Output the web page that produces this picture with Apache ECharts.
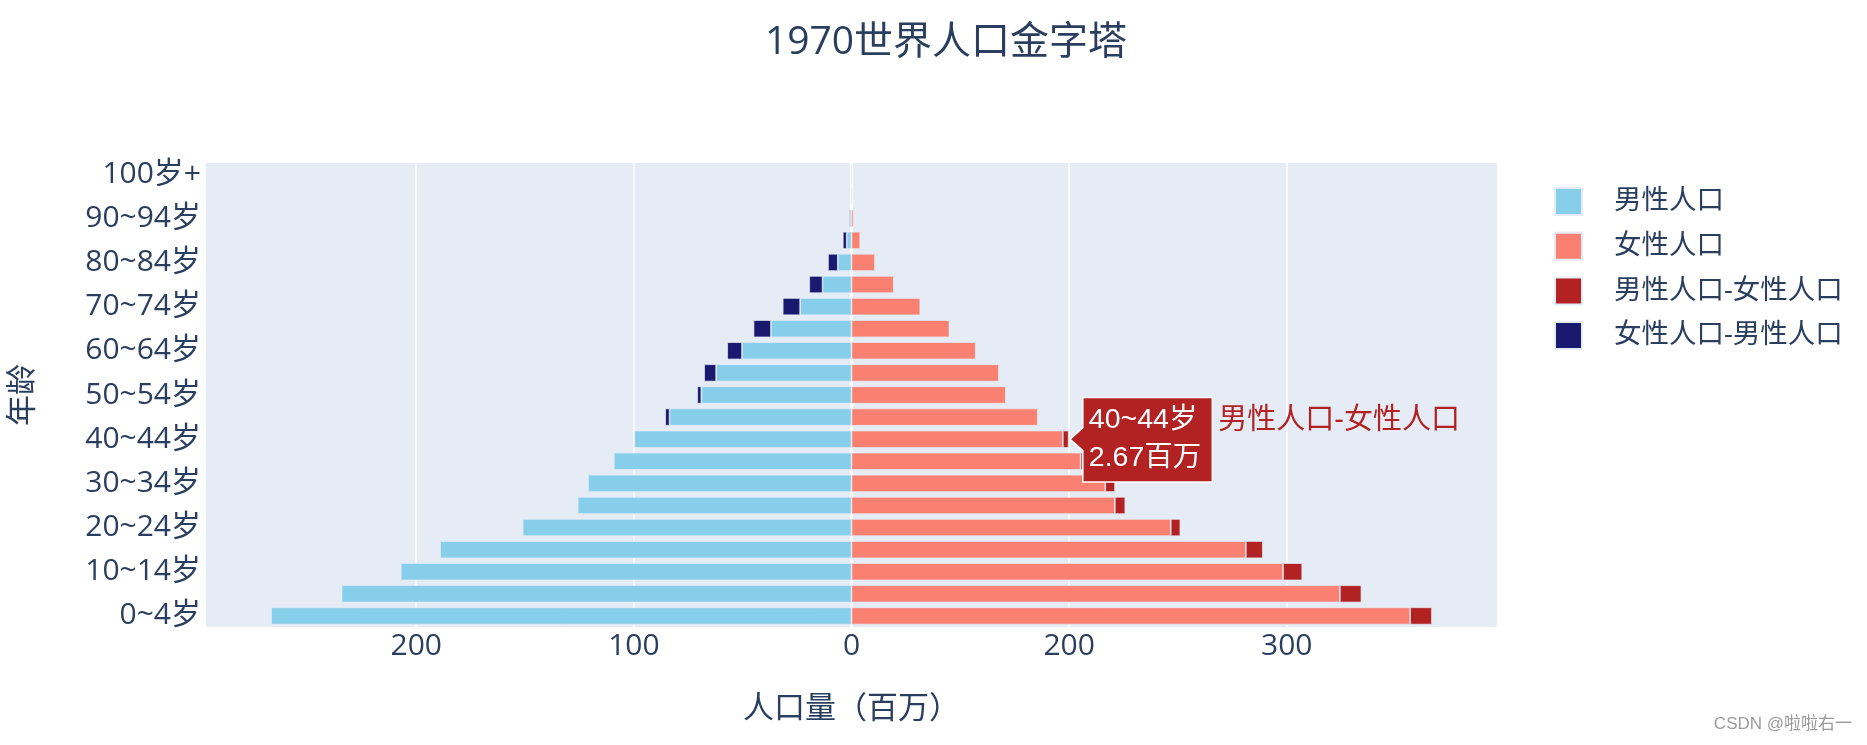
<!DOCTYPE html>
<html>
<head>
<meta charset="utf-8">
<script src="https://cdn.jsdelivr.net/npm/echarts@6/dist/echarts.min.js"></script>
<style>
html,body{margin:0;padding:0;background:#fff;}
#chart{width:1867px;height:745px;}
</style>
</head>
<body>
<div id="chart"></div>
<script>
// ---- data (百万) ----
const ageGroups = ['0~4岁','5~9岁','10~14岁','15~19岁','20~24岁','25~29岁','30~34岁','35~39岁','40~44岁','45~49岁','50~54岁','55~59岁','60~64岁','65~69岁','70~74岁','75~79岁','80~84岁','85~89岁','90~94岁','95~99岁','100岁+'];
const malePop   = [266.7,234.3,207.1,189.0,151.1,125.8,121.1,109.2,99.77,83.6,69.0,62.2,50.3,37.0,23.6,13.3,6.3,2.2,0.4,0.05,0.01];
const femalePop = [256.7,224.4,198.3,181.2,146.7,121.0,116.6,105.3,97.1,85.6,70.9,67.7,57.1,45.0,31.6,19.4,10.8,4.0,1.0,0.15,0.02];
const maleMinusFemale = [10.0,9.9,8.8,7.8,4.4,4.8,4.5,3.9,2.67,null,null,null,null,null,null,null,null,null,null,null,null];
const femaleMinusMale = [null,null,null,null,null,null,null,null,null,2.0,1.9,5.5,6.8,8.0,8.0,6.1,4.5,1.8,0.6,0.1,0.01];
const xTickValues = [-200,-100,0,100,200];
const xTickLabels = ['200','100','0','200','300'];
const seriesNames = ['男性人口','女性人口','男性人口-女性人口','女性人口-男性人口'];
const hoverIndex = 8;

const FONT = '"Open Sans", "Noto Sans CJK SC", sans-serif';
const HFONT = '"Liberation Sans", Arial, "Noto Sans CJK SC", sans-serif';
const TXT = '#2a3f5f';
const chart = echarts.init(document.getElementById('chart'), null, {renderer:'canvas'});

const neg = a => a.map(v => v == null ? null : -v);
const barStyle = c => ({color: c, borderColor: '#E5ECF6', borderWidth: 0.7});

const option = {
  animation: false,
  backgroundColor: '#fff',
  textStyle: {fontFamily: FONT},
  title: {
    text: '1970世界人口金字塔', left: 941, textAlign: 'center', top: 18,
    textStyle: {fontSize: 39, fontWeight: 'normal', color: TXT, fontFamily: FONT}
  },
  legend: {
    orient: 'vertical', left: 1549, top: 182, itemWidth: 27, itemHeight: 27, itemGap: 15.7,
    icon: 'rect',
    textStyle: {fontSize: 27.5, color: TXT, fontFamily: FONT, padding: [0,0,0,27]},
    data: seriesNames
  },
  grid: [{
    left: 204, right: 370, top: 163, bottom: 118,
    show: true, backgroundColor: '#E5ECF6', borderWidth: 0
  }],
  xAxis: [{
    type: 'value', min: -296.6, max: 296.6,
    name: '人口量（百万）', nameLocation: 'middle', nameGap: 67,
    nameTextStyle: {fontSize: 31, color: TXT, fontFamily: FONT},
    axisLine: {show: false},
    axisTick: {show: false, customValues: xTickValues},
    axisLabel: {
      customValues: xTickValues, fontSize: 30, color: TXT, margin: 4, fontFamily: FONT,
      formatter: v => { const i = xTickValues.indexOf(Math.round(v)); return i >= 0 ? xTickLabels[i] : ''; }
    },
    splitLine: {show: true, lineStyle: {color: '#ffffff', width: 1.5}}
  }, {
    type: 'value', min: -296.6, max: 296.6, show: true, position: 'bottom',
    axisLine: {show: false}, axisLabel: {show: false},
    axisTick: {show: false, customValues: [0]},
    splitLine: {show: true, lineStyle: {color: '#ffffff', width: 3}}
  }],
  yAxis: [{
    type: 'category', data: ageGroups,
    name: '年龄', nameLocation: 'middle', nameGap: 167, nameRotate: 90,
    nameTextStyle: {fontSize: 31, color: TXT, fontFamily: FONT},
    axisLine: {show: false}, axisTick: {show: false},
    axisLabel: {interval: 1, fontSize: 30, color: TXT, margin: 5, fontFamily: FONT},
    splitLine: {show: false}
  }],
  series: [
    {name: seriesNames[0], type: 'bar', stack: 'pop', data: neg(malePop), barCategoryGap: '22%', itemStyle: barStyle('#87CEEB')},
    {name: seriesNames[1], type: 'bar', stack: 'pop', data: femalePop, itemStyle: barStyle('#FA8072')},
    {name: seriesNames[2], type: 'bar', stack: 'pop', data: maleMinusFemale, itemStyle: barStyle('#B22222')},
    {name: seriesNames[3], type: 'bar', stack: 'pop', data: neg(femaleMinusMale), itemStyle: barStyle('#191970')}
  ]
};
chart.setOption(option);

// hover label (as in the reference screenshot) anchored at the 男性人口-女性人口 bar end of 40~44岁
const endVal = femalePop[hoverIndex] + maleMinusFemale[hoverIndex];
const p = chart.convertToPixel({gridIndex: 0}, [endVal, ageGroups[hoverIndex]]);
const tipX = p[0] + 1.5, tipY = p[1];
const aw = 12.7, ah = 11.5, bw = 129.5, bTop = 41.6, bBot = 42.7;
chart.setOption({
  graphic: [
    {type: 'polygon', x: tipX, y: tipY, z: 100, zlevel: 1,
     shape: {points: [[0,0],[aw,-ah],[aw,-bTop],[aw+bw,-bTop],[aw+bw,bBot],[aw,bBot],[aw,ah]]},
     style: {fill: '#B22222', stroke: '#ffffff', lineWidth: 1.5}},
    {type: 'text', x: tipX + aw + 6, y: tipY - 19, z: 101, zlevel: 1,
     style: {text: ageGroups[hoverIndex], fill: '#ffffff', fontSize: 28.5, fontFamily: HFONT, verticalAlign: 'middle'}},
    {type: 'text', x: tipX + aw + 6, y: tipY + 19, z: 101, zlevel: 1,
     style: {text: maleMinusFemale[hoverIndex] + '百万', fill: '#ffffff', fontSize: 28.5, fontFamily: HFONT, verticalAlign: 'middle'}},
    {type: 'text', x: tipX + aw + bw + 6, y: tipY - 18, z: 101, zlevel: 1,
     style: {text: seriesNames[2], fill: '#B22222', fontSize: 29, fontFamily: HFONT, verticalAlign: 'middle'}},
    {type: 'text', right: 15, top: 716, z: 100,
     style: {text: 'CSDN @啦啦右一', fill: '#9a9a9a', fontSize: 17, fontFamily: HFONT}}
  ]
});
</script>
</body>
</html>
